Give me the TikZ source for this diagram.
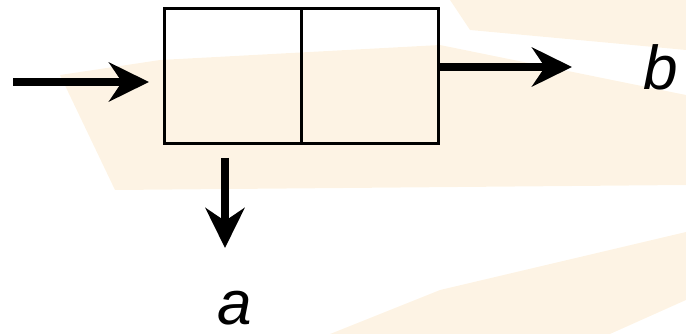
\documentclass[tikz,border=0pt]{standalone}
\usepackage{fontspec}
\setmainfont{Liberation Sans}
\usetikzlibrary{arrows.meta}
\definecolor{wm}{RGB}{252,234,206}
\begin{document}
\begin{tikzpicture}[x=1pt,y=-1pt,
  cell/.style={draw=black,line width=2.6pt,minimum width=137pt,minimum height=135pt,inner sep=0pt,anchor=north west},
  flow/.style={line width=7.5pt,-{Stealth[length=40pt,width=39pt,inset=13pt]}},
  lbl/.style={inner sep=0pt,anchor=base west,font=\fontsize{62}{62}\selectfont\itshape},
  wmark/.style={fill=wm,opacity=0.55}]
\useasboundingbox (0,0) rectangle (686,334);
% faint watermark
\fill[wmark] (60,75) -- (160,60) -- (440,45) -- (686,95) -- (686,185) -- (115,190) -- cycle;
\fill[wmark] (450,0) -- (686,0) -- (686,50) -- (600,42) -- (470,30) -- cycle;
\fill[wmark] (330,334) -- (440,290) -- (686,232) -- (686,300) -- (610,334) -- cycle;
% diagram
\node[cell] (L) at (163,7) {};
\node[cell] (R) at (300,7) {};
\coordinate (in) at (13,82);
\coordinate (outend) at (572,67);
\coordinate (dtop) at (225,158);
\coordinate (dend) at (225,248);
\node[lbl] (a) at (217,324) {a};
\node[lbl] (b) at (643,90) {b};
\draw[flow] (in) -- ([xshift=-14pt]L.west |- in);
\draw[flow] (R.east |- outend) -- (outend);
\draw[flow] (dtop) -- (dend);
\end{tikzpicture}
\end{document}
